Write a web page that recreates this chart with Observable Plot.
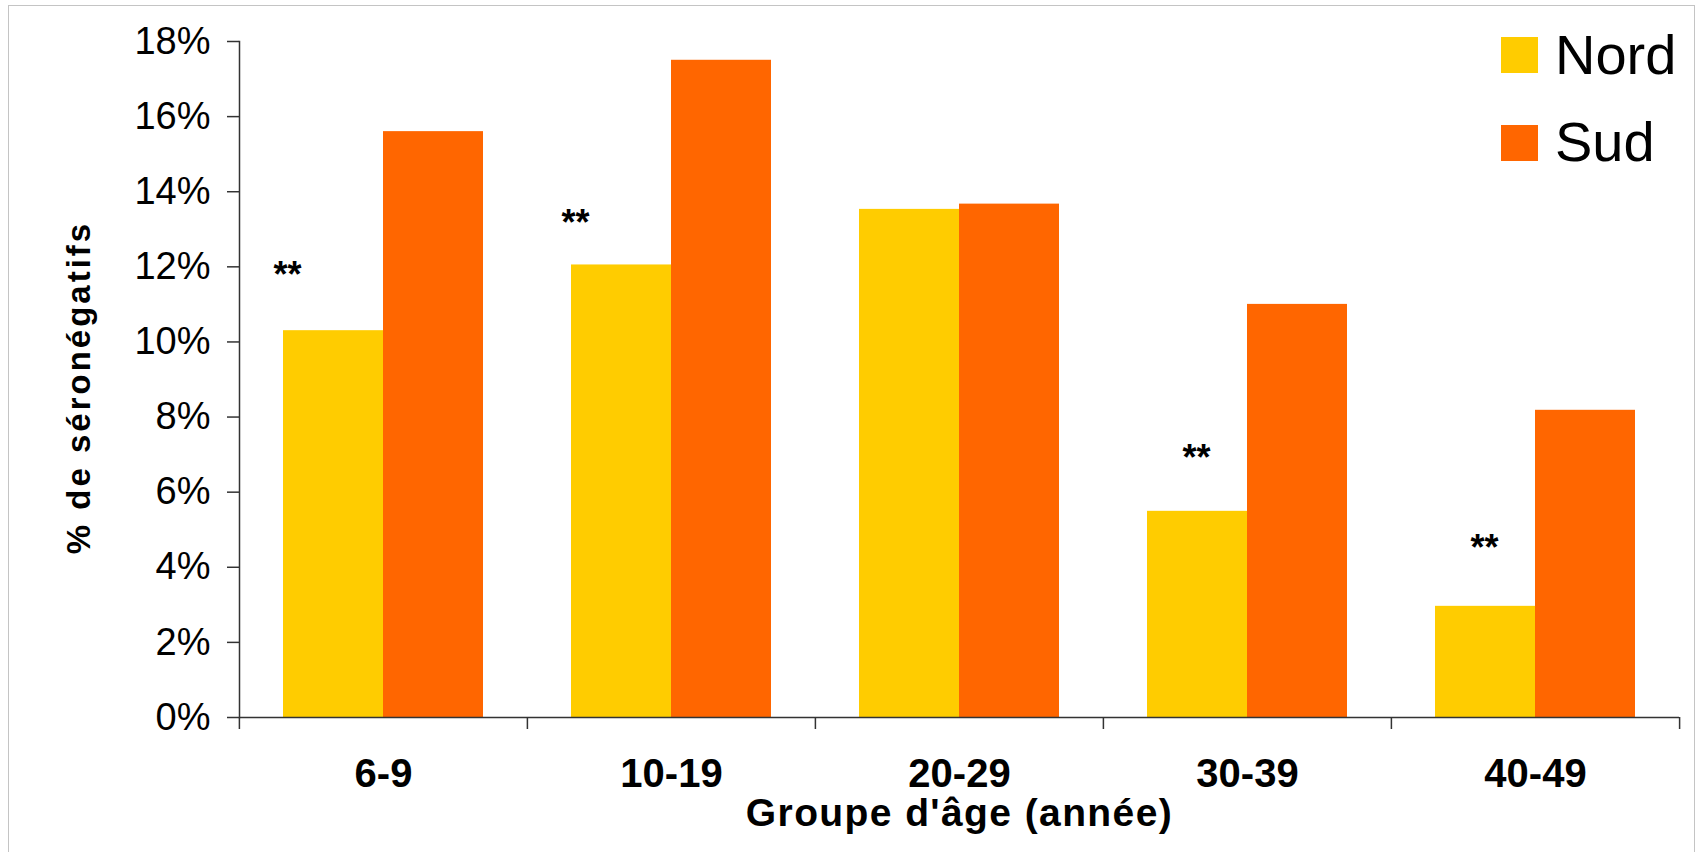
<!DOCTYPE html>
<html>
<head>
<meta charset="utf-8">
<script src="https://cdn.jsdelivr.net/npm/d3@7"></script>
<script src="https://cdn.jsdelivr.net/npm/@observablehq/plot@0.6"></script>
<style>
  html, body { margin: 0; padding: 0; background: #fff; }
  #wrap { position: relative; width: 1696px; height: 852px; overflow: hidden; font-family: "Liberation Sans", Arial, sans-serif; }
  #border { position: absolute; left: 8px; top: 5px; right: 1px; bottom: -4px; border: 1.5px solid #c4c4c4; border-bottom: none; pointer-events: none; }
  .lg-sw { position: absolute; left: 1501px; width: 37px; height: 36px; }
  .lg-tx { position: absolute; left: 1555px; font-size: 56px; line-height: 56px; color: #000; white-space: nowrap; }
</style>
</head>
<body>
<div id="wrap"><div id="border"></div></div>
<script>
// ---- data ----
const groups = ["6-9", "10-19", "20-29", "30-39", "40-49"];
const series = ["Nord", "Sud"];
const nordValues = [10.3, 12.05, 13.53, 5.49, 2.96];
const sudValues = [15.6, 17.5, 13.67, 11.0, 8.18];
const colors = ["#FFCC00", "#FF6600"];
const yTicks = [0, 2, 4, 6, 8, 10, 12, 14, 16, 18];
const starGroups = ["6-9", "10-19", "30-39", "40-49"];
const starLevels = [12.0, 13.4, 7.15, 4.75];
const xTitle = "Groupe d'âge (année)";
const yTitle = "% de séronégatifs";

// ---- tables ----
const data = groups.flatMap((g, i) => [
  {group: g, series: "Nord", value: nordValues[i]},
  {group: g, series: "Sud", value: sudValues[i]}
]);
const stars = starGroups.map((g, i) => ({group: g, series: "Nord", level: starLevels[i]}));

const W = 1696, H = 852;
const mL = 238, mR = 17, mT = 41, mB = 135;
const step = (W - mL - mR) / groups.length;
const axisColor = "#333";

const chart = Plot.plot({
  width: W,
  height: H,
  marginLeft: mL, marginRight: mR, marginTop: mT, marginBottom: mB,
  style: {fontFamily: "'Liberation Sans', Arial, sans-serif", background: "transparent", color: "#000"},
  fx: {domain: groups, padding: 0, label: null},
  x: {domain: series, paddingInner: 0, paddingOuter: 0.43, axis: null},
  y: {domain: [0, 18], axis: null},
  color: {domain: series, range: colors},
  marks: [
    Plot.barY(data, {fx: "group", x: "series", y: "value", fill: "series", inset: 0}),
    Plot.ruleY([0], {stroke: axisColor, strokeWidth: 1.5}),
    Plot.frame({anchor: "left", facetAnchor: "left", stroke: axisColor, strokeWidth: 1.5}),
    Plot.axisY({ticks: yTicks, tickFormat: d => d + "%", tickSize: 12, tickPadding: 17,
      fontSize: 38, label: null, stroke: axisColor, strokeWidth: 1.5}),
    Plot.axisFx({anchor: "bottom", tickSize: 0, tickPadding: 41, fontSize: 40, fontWeight: "bold", label: null}),
    Plot.axisFx({anchor: "bottom", fill: "none", tickSize: 12, dx: -step / 2, label: null, stroke: axisColor, strokeWidth: 1.5}),
    Plot.axisFx({anchor: "bottom", ticks: [groups[groups.length - 1]], fill: "none", tickSize: 12, dx: step / 2, label: null, stroke: axisColor, strokeWidth: 1.5}),
    Plot.text(stars.slice(0, 2), {fx: "group", x: "series", y: "level", text: () => "**", dx: -46, dy: 9, fontSize: 36, fontWeight: "bold"}),
    Plot.text(stars.slice(2), {fx: "group", x: "series", y: "level", text: () => "**", dx: -1, dy: 9, fontSize: 36, fontWeight: "bold"}),
    Plot.text([{group: groups[2]}], {fx: "group", text: () => xTitle, frameAnchor: "bottom", textAnchor: "middle", lineAnchor: "top",
      dy: 81, fontSize: 39, fontWeight: "bold"}),
    Plot.text([{group: groups[0]}], {fx: "group", text: () => yTitle, frameAnchor: "left", textAnchor: "middle", rotate: -90,
      dx: -160, dy: 8, fontSize: 33, fontWeight: "bold"})
  ]
});

// extra letter spacing on the two axis titles, as in the reference
chart.querySelectorAll("text").forEach(t => {
  if (t.textContent === yTitle) t.setAttribute("letter-spacing", "3");
  if (t.textContent === xTitle) t.setAttribute("letter-spacing", "1.4");
});

const wrap = document.getElementById("wrap");
chart.style.position = "absolute";
chart.style.left = "0px";
chart.style.top = "0px";
wrap.insertBefore(chart, wrap.firstChild);

// legend (inside the chart, top right)
const swTops = [37, 125];
const txTops = [27, 114];
series.forEach((s, i) => {
  const sw = document.createElement("div");
  sw.className = "lg-sw";
  sw.style.top = swTops[i] + "px";
  sw.style.background = colors[i];
  wrap.appendChild(sw);
  const tx = document.createElement("div");
  tx.className = "lg-tx";
  tx.style.top = txTops[i] + "px";
  tx.textContent = s;
  wrap.appendChild(tx);
});
</script>
</body>
</html>
